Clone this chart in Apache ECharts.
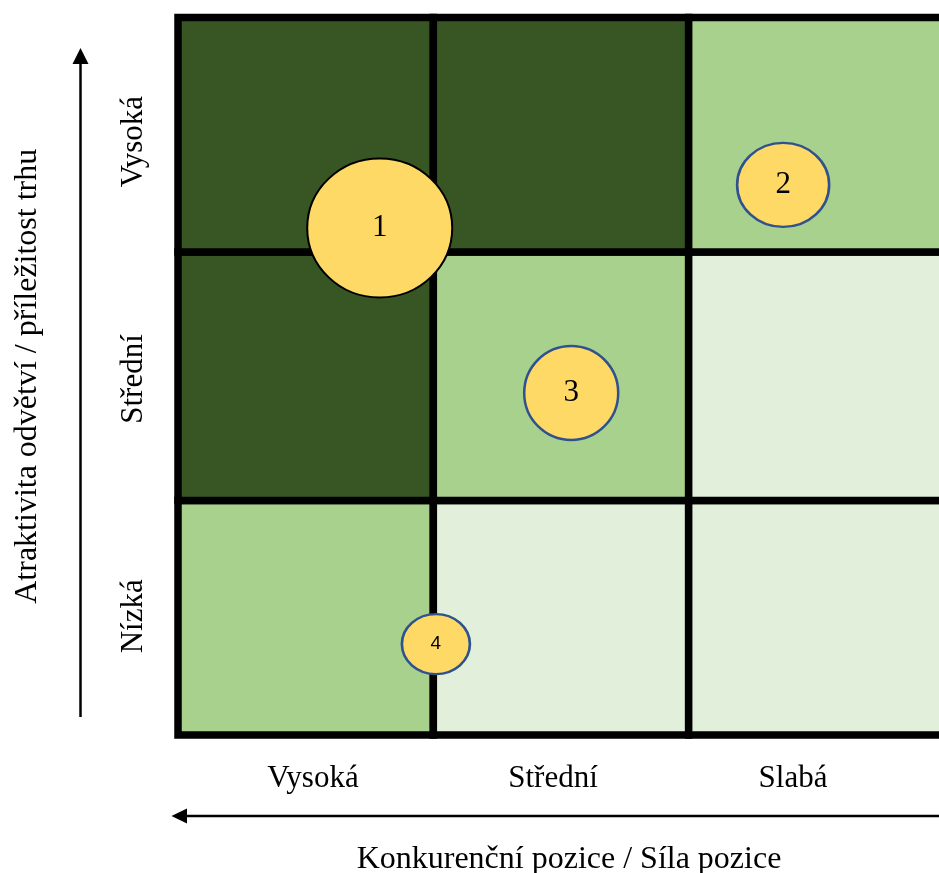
<!DOCTYPE html>
<html>
<head>
<meta charset="utf-8">
<script src="https://cdn.jsdelivr.net/npm/echarts@6/dist/echarts.min.js"></script>
<style>
html,body{margin:0;padding:0;background:#fff;}
#chart{width:939px;height:873px;}
</style>
</head>
<body>
<div id="chart"></div>
<script>
// ---- data ----
const colLabels = ['Vysoká', 'Střední', 'Slabá'];          // competitive position (left -> right)
const rowLabels = ['Nízká', 'Střední', 'Vysoká'];          // attractiveness (bottom -> top)
const cellLevels = [                                        // rows bottom -> top, cols left -> right
  [1, 0, 0],
  [2, 1, 0],
  [2, 2, 1]
];
const rowEdges = [0, 0.98, 2.02, 3];
const colEdges = [0, 1, 2, 3];
const bubbleNames = ['1', '2', '3', '4'];
const bubbleX = [0.79, 2.37, 1.54, 1.01];
const bubbleY = [2.12, 2.30, 1.43, 0.38];
const bubbleW = [145, 92, 94, 68];
const bubbleH = [139, 84, 94, 60];
const xTitle = 'Konkurenční pozice / Síla pozice';
const yTitle = 'Atraktivita odvětví / příležitost trhu';

// ---- styles ----
const levelColors = ['#E2EFDA', '#A9D18E', '#375623'];
const serif = 'Liberation Serif, Times New Roman, serif';

const cellData = [];
cellLevels.forEach((row, r) => row.forEach((lv, c) => cellData.push([c, r, lv])));

const bubbleData = bubbleNames.map((n, i) => ({
  name: n,
  value: [bubbleX[i], bubbleY[i]],
  symbolSize: [bubbleW[i], bubbleH[i]],
  itemStyle: {
    color: '#FFD966',
    opacity: 1,
    borderColor: i === 0 ? '#000000' : '#2F528F',
    borderWidth: i === 0 ? 2 : 2.5
  },
  label: i === 3
    ? { fontSize: 19, fontFamily: 'Liberation Sans, Arial, sans-serif' }
    : { fontSize: 31, fontFamily: serif }
}));

const chart = echarts.init(document.getElementById('chart'), null, { renderer: 'canvas' });
chart.setOption({
  animation: false,
  backgroundColor: '#ffffff',
  grid: [
    { left: 178, top: 17.5, width: 766, height: 717.5, containLabel: false, outerBoundsMode: 'none' },
    { left: 193, top: 23, width: 720, height: 712, containLabel: false, outerBoundsMode: 'none' }
  ],
  xAxis: [
    {
      type: 'value', gridIndex: 0, min: 0, max: 3,
      axisLine: { show: false }, axisTick: { show: false },
      axisLabel: { show: false }, splitLine: { show: false },
      name: xTitle, nameLocation: 'middle', nameGap: 109,
      nameTextStyle: { fontFamily: serif, fontSize: 32, color: '#000', padding: [0, 0, 0, 16] }
    },
    {
      type: 'category', gridIndex: 1, data: colLabels,
      axisLine: { show: false }, axisTick: { show: false }, splitLine: { show: false },
      axisLabel: { margin: 28, fontFamily: serif, fontSize: 31, color: '#000' }
    }
  ],
  yAxis: [
    {
      type: 'value', gridIndex: 0, min: 0, max: 3,
      axisLine: { show: false }, axisTick: { show: false },
      axisLabel: { show: false }, splitLine: { show: false },
      name: yTitle, nameLocation: 'middle', nameGap: 134, nameRotate: 90,
      nameTextStyle: { fontFamily: serif, fontSize: 32, color: '#000' }
    },
    {
      type: 'category', gridIndex: 1, data: rowLabels,
      axisLine: { show: false }, axisTick: { show: false }, splitLine: { show: false },
      axisLabel: { rotate: 90, margin: 44, fontFamily: serif, fontSize: 31, color: '#000' }
    }
  ],
  series: [
    {
      type: 'custom',
      xAxisIndex: 0, yAxisIndex: 0,
      data: cellData,
      z: 1,
      renderItem: function (params, api) {
        const c = api.value(0), r = api.value(1), lv = api.value(2);
        const p0 = api.coord([colEdges[c], rowEdges[r + 1]]);
        const p1 = api.coord([colEdges[c + 1], rowEdges[r]]);
        return {
          type: 'rect',
          shape: { x: p0[0], y: p0[1], width: p1[0] - p0[0], height: p1[1] - p0[1] },
          style: { fill: levelColors[lv], stroke: '#000000', lineWidth: 7.5 }
        };
      }
    },
    {
      type: 'scatter',
      xAxisIndex: 0, yAxisIndex: 0,
      z: 5,
      data: bubbleData,
      itemStyle: { opacity: 1 },
      label: { show: true, position: 'inside', color: '#000', formatter: '{b}' },
      emphasis: { disabled: true }
    }
  ],
  graphic: [
    { type: 'line', shape: { x1: 80.5, y1: 717, x2: 80.5, y2: 60 }, style: { stroke: '#000', lineWidth: 2.5 } },
    { type: 'polygon', shape: { points: [[80.5, 48], [72.5, 64], [88.5, 64]] }, style: { fill: '#000' } },
    { type: 'line', shape: { x1: 939, y1: 816, x2: 184, y2: 816 }, style: { stroke: '#000', lineWidth: 2.5 } },
    { type: 'polygon', shape: { points: [[171.5, 816], [187, 808.5], [187, 823.5]] }, style: { fill: '#000' } }
  ]
});
</script>
</body>
</html>
